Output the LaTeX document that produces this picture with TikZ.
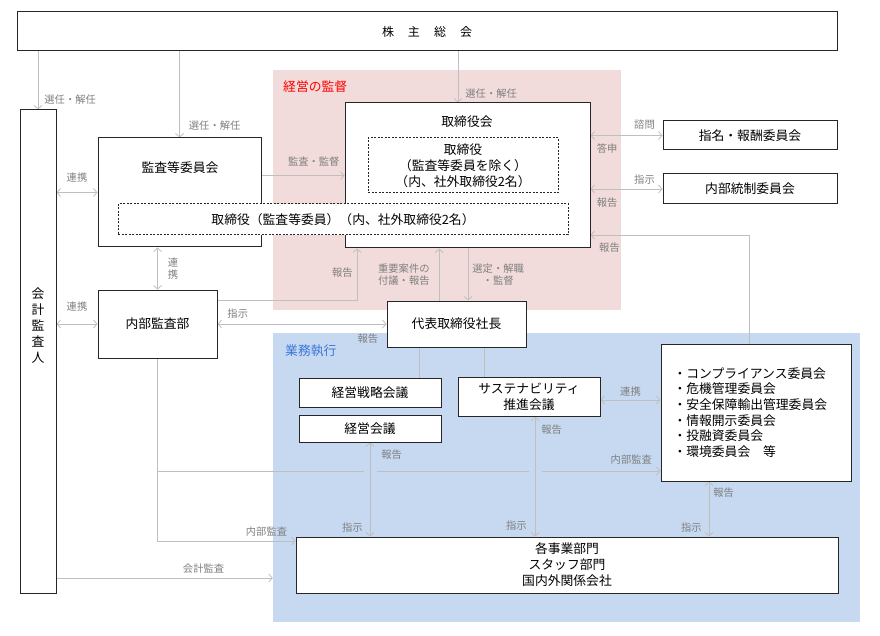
\documentclass[tikz,border=0pt]{standalone}
\usepackage{fontspec}
\setmainfont{Noto Sans CJK JP}
\usepackage{tikz}
\usetikzlibrary{positioning}
\usetikzlibrary{shapes, arrows.meta, backgrounds}

\definecolor{superbg}{HTML}{F2DCDB}
\definecolor{execbg}{HTML}{C6D9F1}
\definecolor{lineg}{HTML}{BFBFBF}
\definecolor{textg}{HTML}{7F7F7F}
\definecolor{execblue}{HTML}{3C78D8}

\begin{document}
\begin{tikzpicture}
[
x=1pt, y=-1pt,
inner sep=0pt,
>={Straight Barb[length=3.5pt,width=8pt]},
std1/.style={rectangle, draw=black!85, line width=1pt, fill=white, align=center, font=\fontsize{12.8}{16}\selectfont},
std2/.style={std1, dash pattern=on 2pt off 1.5pt},
area/.style={rectangle, draw=none, inner sep=0pt},
title/.style={font=\fontsize{12.8}{16}\selectfont, align=center},
tag/.style={font=\fontsize{10.3}{12.5}\selectfont, text=textg, inner sep=1pt, align=center},
conn/.style={draw=lineg, line width=0.8pt},
hop/.style={preaction={draw=execbg, line width=13pt, arrows=-}},
]
\useasboundingbox (0,0) rectangle (880,636);

% boxes
\node [std1, minimum width=820pt, minimum height=39pt, font=\fontsize{12}{14}\selectfont] (share) at (427,31.5) {株\hspace{14pt}主\hspace{14pt}総\hspace{14pt}会};
\node [std1, minimum width=36pt, minimum height=483pt] (acct) at (38,351.5) {};
\node [title] (accttxt) at (38,326) {会\\計\\監\\査\\人};

\node [std1, minimum width=163pt, minimum height=109pt] (aud) at (179.5,192.5) {};
\node [title] (audtxt) at (180,168) {監査等委員会};
\node [std1, minimum width=245pt, minimum height=145pt] (board) at (467.5,175.5) {};
\node [title] (boardtxt) at (467,122) {取締役会};
\node [std2, minimum width=190pt, minimum height=55pt] (dirs) at (463,165.5) {取締役\\（監査等委員を除く）\\（内、社外取締役2名）};
\node [std2, minimum width=450pt, minimum height=31pt] (audmem) at (343,219.5) {取締役（監査等委員）（内、社外取締役2名）};

\node [std1, minimum width=174pt, minimum height=29pt] (nomc) at (750,135.5) {指名・報酬委員会};
\node [std1, minimum width=174pt, minimum height=30pt, below = 23pt of nomc] (icc) {内部統制委員会};

\node [std1, minimum width=119pt, minimum height=68pt] (ia) at (157.5,324) {内部監査部};
\node [std1, minimum width=139pt, minimum height=46pt] (ceo) at (456.5,324) {代表取締役社長};

\node [std1, minimum width=142pt, minimum height=29pt] (strat) at (370,392.5) {経営戦略会議};
\node [std1, minimum width=142pt, minimum height=27pt, below = 7pt of strat] (mgmt) {経営会議};
\node [std1, minimum width=142pt, minimum height=39pt] (sus) at (529,396.5) {サステナビリティ\\推進会議};
\node [std1, minimum width=190pt, minimum height=137pt, text width=165pt, align=left, font=\fontsize{12.8}{15.7}\selectfont] (com) at (756,412.5) {・コンプライアンス委員会\\・危機管理委員会\\・安全保障輸出管理委員会\\・情報開示委員会\\・投融資委員会\\・環境委員会　等};
\node [std1, minimum width=542pt, minimum height=56pt] (ops) at (567,565) {各事業部門\\スタッフ部門\\国内外関係会社};

\begin{scope}[on background layer]
% background areas
\node [area, fill=superbg, minimum width=348pt, minimum height=240pt] (superv) at (447,190) {};
\node [area, fill=execbg, minimum width=587pt, minimum height=289pt] (exec) at (566.5,477.5) {};
\node [anchor=north west, text=red, font=\fontsize{12.8}{15}\selectfont] (supervtxt) at (283,81) {経営の監督};
\node [anchor=north west, text=execblue, font=\fontsize{12.8}{15}\selectfont] (exectxt) at (285,345) {業務執行};

% connectors
\draw [->,conn] (acct.north |- share.south) -- node[tag, right=5pt, pos=0.83]{選任・解任} (acct.north);
\draw [->,conn] (aud.north |- share.south) -- node[tag, right=8pt, pos=0.86]{選任・解任} (aud.north);
\draw [->,conn] (share.south -| 458,0) -- node[tag, right=6pt, pos=0.83]{選任・解任} (board.north -| 458,0);

\draw [<->,conn] (acct.east |- aud.center) -- node[tag, above=9pt]{連携} (aud.west);
\draw [<->,conn] (aud.south -| ia.north) -- node[tag, right=9pt]{連\\携} (ia.north);
\draw [<->,conn] (acct.east |- ia.west) -- node[tag, above=11pt]{連携} (ia.west);
\draw [->,conn] (aud.east |- board.west) -- node[tag, above=8pt, pos=0.63]{監査・監督} (board.west);

\draw [->,conn] (ia.east |- ceo.north) -| node[tag, left=3pt, pos=0.77]{報告} (board.south -| 357,0);
\draw [<->,conn] (ia.east) -- node[tag, above=4pt, pos=0.12]{指示} node[tag, below=8pt, pos=0.89]{報告} (ceo.west);
\draw [->,conn] (ceo.north -| 439,0) -- node[tag, left=8pt]{重要案件の\\付議・報告} (board.south -| 439,0);
\draw [->,conn] (board.south -| 468,0) -- node[tag, right=3pt]{選定・解職\\・監督} (ceo.north -| 468,0);

\draw [<->,conn] (board.east |- nomc.west) -- node[tag, above=4.5pt, pos=0.75]{諮問} node[tag, below=6.5pt, pos=0.23]{答申} (nomc.west);
\draw [<->,conn] (board.east |- icc.west) -- node[tag, above=3pt, pos=0.75]{指示} node[tag, below=7pt, pos=0.23]{報告} (icc.west);
\draw [->,conn] (com.north -| 749,0) |- node[tag, below=6pt, pos=0.94]{報告} (board.east |- 0,235);

\draw [conn] (ceo.south -| 419,0) -- (strat.north -| 419,0);
\draw [conn] (ceo.south -| 484,0) -- (sus.north -| 484,0);
\draw [<->,conn] (sus.east |- 0,400) -- node[tag, above=2pt]{連携} (com.west |- 0,400);

\draw [->,conn] (ia.south) |- node[tag, above=5pt, pos=0.971]{内部監査} (com.west |- 0,471);
\draw [->,conn] (ia.south) |- node[tag, above=3pt, pos=0.895]{内部監査} (ops.west |- 0,541);
\draw [->,conn] (acct.east |- 0,578) -- node[tag, above=3pt, pos=0.68]{会計監査} (exec.west |- 0,578);

\draw [<->,conn,hop] (mgmt.south) -- node[tag, right=10pt, pos=0.125]{報告} node[tag, left=6pt, pos=0.9]{指示} (mgmt.south |- ops.north);
\draw [<->,conn,hop] (sus.south -| 535,0) -- node[tag, right=5pt, pos=0.11]{報告} node[tag, left=7pt, pos=0.91]{指示} (ops.north -| 535,0);
\draw [<->,conn] (com.south -| 709,0) -- node[tag, right=3pt, pos=0.21]{報告} node[tag, left=6pt, pos=0.83]{指示} (ops.north -| 709,0);
\end{scope}
\end{tikzpicture}
\end{document}
